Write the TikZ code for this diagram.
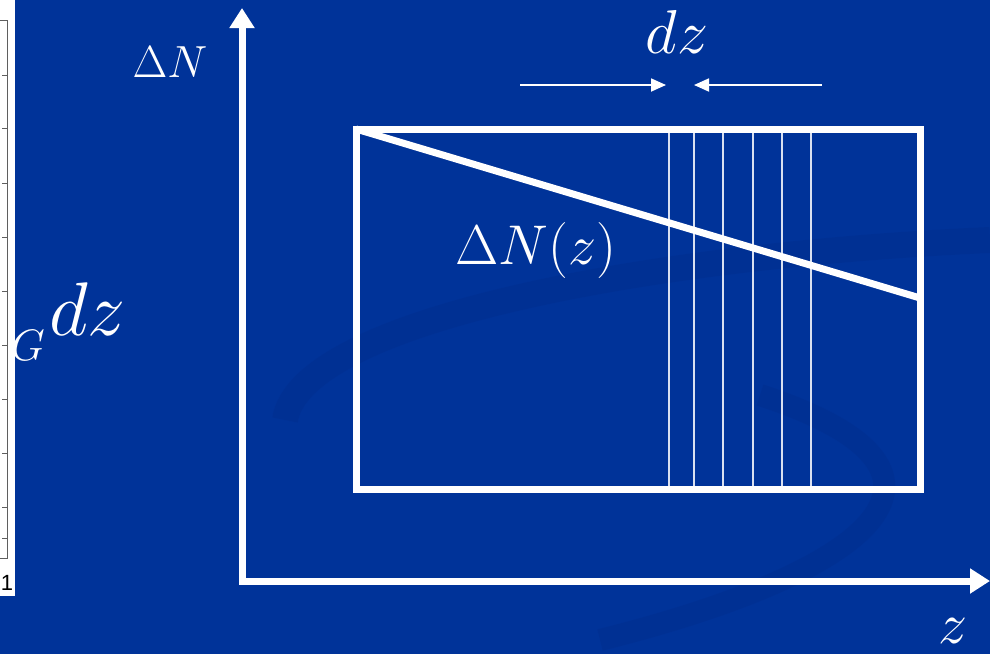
\RequirePackage{fix-cm}
\documentclass[tikz,border=0pt]{standalone}
\usepackage{fontspec}
\setsansfont{Liberation Sans}
\usetikzlibrary{arrows.meta,positioning}
\definecolor{slideblue}{RGB}{0,51,153}
\definecolor{swirlblue}{RGB}{0,45,140}
\definecolor{plotgrey}{RGB}{95,95,95}

\begin{document}
\begin{tikzpicture}[x=1pt,y=-1pt,
    axis/.style={-{Triangle[length=20pt,width=24pt]}, line width=7pt, white, line cap=rect},
    frame/.style={line width=7pt, white},
    slice/.style={line width=1.8pt, white!85!slideblue},
    gap/.style={-{Triangle[length=15pt,width=13pt]}, line width=1.8pt, white},
    lbl/.style={text=white, inner sep=0pt, anchor=base}]

    \useasboundingbox (0,0) rectangle (990,653);
    \fill[slideblue] (-5,-5) rectangle (995,660);

    % background swirl
    \draw[swirlblue, line width=26pt, opacity=0.4] (285,420) .. controls (300,320) and (650,255) .. (990,240);
    \draw[swirlblue, line width=22pt, opacity=0.4] (600,640) .. controls (880,570) and (990,470) .. (760,395);

    % left strip
    \fill[white] (-5,-5) rectangle (15,596);
    \draw[plotgrey, line width=1pt] (0,20) -- (7,20) -- (7,558) -- (0,558);
    \foreach \ty in {75,128,183,237,291,345,399,453,507,538}
        \draw[plotgrey, line width=1pt] (2,\ty) -- (7,\ty);
    \node[font=\sffamily\fontsize{22}{22}\selectfont, inner sep=0pt] (one) at (7,583) {1};

    % axes
    \coordinate (O) at (242,581);
    \coordinate (ytop) at (242,8);
    \coordinate (xend) at (990,581);
    \draw[axis] (O) -- (ytop);
    \draw[axis] (O) -- (xend);

    % box with slices
    \coordinate (bl) at (356,489);
    \coordinate (tr) at (920,129);
    \coordinate (tl) at (356,129);
    \coordinate (dend) at (920,298);
    \foreach \sx in {669,694,753,782,811}
        \draw[slice] (\sx,129) -- (\sx,489);
    \draw[slice] (723,129) -- (723,493);
    \draw[frame] (bl) rectangle (tr);
    \draw[frame] (tl) -- (dend);

    % dz marker
    \coordinate (gl) at (520,85);
    \coordinate (gm1) at (666,85);
    \coordinate (gm2) at (694,85);
    \coordinate (gr) at (822,85);
    \draw[gap] (gl) -- (gm1);
    \draw[gap] (gr) -- (gm2);

    \node[lbl, font=\fontsize{62}{62}\selectfont] (dz) at (677,53) {$dz$};
    \node[lbl, font=\fontsize{45}{45}\selectfont] (dN) at (170,77) {$\Delta N$};
    \node[lbl, font=\fontsize{56}{56}\selectfont] (dNz) at (536,264) {$\Delta N(z)$};
    \node[lbl, font=\fontsize{58}{58}\selectfont] (zlbl) at (953,643) {$z$};
    \node[lbl, font=\fontsize{76}{76}\selectfont, anchor=base west] (ldz) at (49,335) {$dz$};
    \node[lbl, font=\fontsize{44}{44}\selectfont, anchor=base east] (lG) at (45,360) {$G$};

    % strip covers the cut-off subscript
    \fill[white] (-5,300) rectangle (15,380);
    \draw[plotgrey, line width=1pt] (7,300) -- (7,380);
    \draw[plotgrey, line width=1pt] (2,345) -- (7,345);
\end{tikzpicture}
\end{document}
